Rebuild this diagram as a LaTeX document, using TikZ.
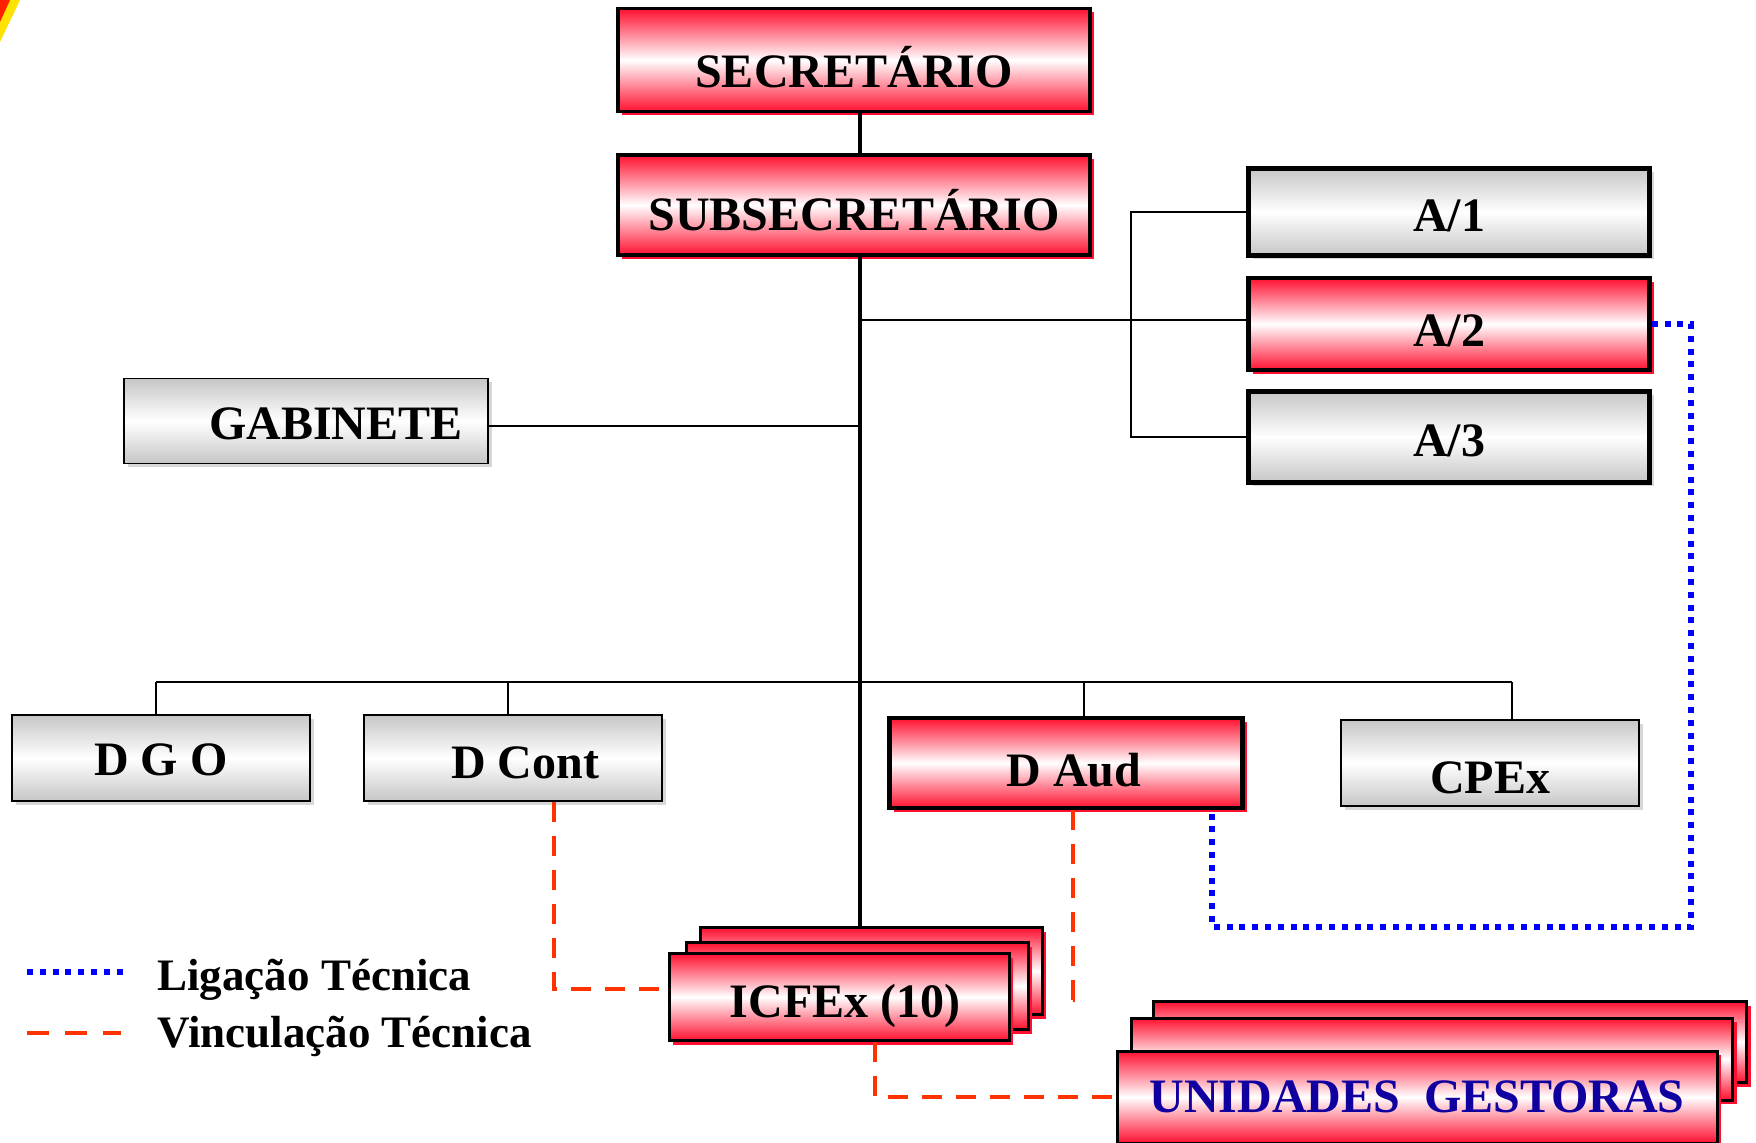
\documentclass[tikz,border=0pt]{standalone}
\usepackage{fontspec}
\setmainfont{Liberation Serif}
\usetikzlibrary{calc,shadows}
\definecolor{boxred}{RGB}{255,16,48}
\definecolor{boxgrey}{RGB}{198,198,198}
\definecolor{ugblue}{RGB}{16,0,160}
\definecolor{vincred}{RGB}{255,51,0}
\definecolor{ligblue}{RGB}{0,0,255}

\begin{document}
\begin{tikzpicture}[x=0.5pt,y=-0.5pt,
  bx/.style 2 args={minimum width=#1*0.5pt,minimum height=#2*0.5pt,inner sep=0pt,font=\fontsize{24}{28}\selectfont\bfseries},
  dn/.style={text height=#1,text depth=0pt},
  redbox/.style={draw,line width=1.8pt,top color=boxred,bottom color=boxred,middle color=white,general shadow={shadow xshift=2pt,shadow yshift=-2pt,fill=boxred}},
  greybox/.style={draw,line width=0.8pt,top color=boxgrey,bottom color=boxgrey,middle color=white,general shadow={shadow xshift=2pt,shadow yshift=-2pt,fill=boxgrey!70}},
  trunk/.style={line width=2.2pt},
  link/.style={line width=0.9pt},
  vinc/.style={vincred,line width=2.4pt,dash pattern=on 10pt off 7pt},
  lig/.style={ligblue,line width=2.8pt,dash pattern=on 3pt off 3.4pt},
  legtext/.style={anchor=base west,inner sep=0pt,font=\fontsize{22.5}{26}\selectfont\bfseries}]
\useasboundingbox (0,0) rectangle (1756,1143);
\fill[yellow!85!orange] (0,0) -- (20,0) -- (0,42) -- cycle; % corner
\fill[red!75!orange] (0,0) -- (10,0) -- (0,22) -- cycle; % corner

% top of the chart
\node[redbox,bx={472}{103},dn=27.9pt] (sec) at (854,60) {SECRETÁRIO};
\node[redbox,bx={472}{100},dn=25.9pt] (sub) at (854,205) {SUBSECRETÁRIO};
\node[greybox,line width=2.2pt,bx={401}{87},dn=19.9pt] (a1) at (1449,212) {A/1};
\node[redbox,line width=2.2pt,bx={401}{92},dn=22.9pt] (a2) at (1449,324) {A/2};
\node[greybox,line width=2.2pt,bx={401}{91},dn=19.9pt] (a3) at (1449,437) {A/3};
\node[greybox,bx={364}{85},dn=18.9pt] (gab) at (306,421) {\hspace*{30pt}GABINETE};

% directorates
\node[greybox,bx={298}{86},dn=17.9pt] (dgo) at (161,758) {D G O};
\node[greybox,bx={298}{86},dn=20.9pt] (dcont) at (513,758) {\hspace*{12pt}D Cont};
\node[redbox,line width=2.2pt,bx={353}{90},dn=23.9pt] (daud) at (1066,763) {\hspace*{8pt}D Aud};
\node[greybox,bx={298}{86},dn=30.9pt] (cpex) at (1490,763) {CPEx};

% ICFEx stack
\node[redbox,line width=1.5pt,bx={342}{87}] (icb) at (871,971) {};
\node[redbox,line width=1.5pt,bx={342}{87}] (icm) at (857,986) {};
\node[redbox,line width=1.5pt,bx={340}{87},dn=20.9pt] (icf) at (839,997) {\hspace*{6pt}ICFEx (10)};

% UG stack
\node[redbox,line width=1.5pt,bx={593}{81}] (ugb) at (1450,1042) {};
\node[redbox,line width=1.5pt,bx={601}{82}] (ugm) at (1432,1059) {};
\node[redbox,line width=1.5pt,bx={600}{92},dn=15.9pt,text=ugblue] (ugf) at (1417,1097) {UNIDADES\ \ GESTORAS};

% wiring
\coordinate (tk) at (860,0);
\coordinate (ab) at (1131,0);
\coordinate (bus) at (0,682);
\draw[trunk] (sec.south -| tk) -- (sub.north -| tk); % trunk
\draw[trunk] (sub.south -| tk) -- (icb.north -| tk); % trunk
\draw[link] (a1.west) -- (a1.west -| ab) -- (a3.west -| ab) -- (a3.west); % A bracket
\draw[link] ($(a2.west)+(0,-4)$) -- ($(a2.west -| tk)+(0,-4)$); % A/2
\draw[link] ($(gab.east)+(0,5)$) -- ($(gab.east -| tk)+(0,5)$); % gabinete
\draw[link] ($(dgo.north |- bus)+(-5,0)$) -- ($(cpex.north |- bus)+(22,0)$); % bus
\foreach \b/\dx in {dgo/-5,dcont/-5,daud/18,cpex/22}
  \draw[link] ($(\b.north)+(\dx,0)$) -- ($(\b.north |- bus)+(\dx,0)$); % drops

% technical links
\coordinate (lg) at (1691,927);
\draw[lig] (a2.east) -| (lg) -| ($(daud.south)+(146,0)$); % ligacao
\draw[vinc] ($(dcont.south)+(41,0)$) |- ($(icf.west)+(-7,-8)$); % D Cont
\draw[vinc] ($(daud.south)+(7,0)$) |- ($(icb.east)+(22,29)$); % D Aud
\draw[vinc] ($(icf.south)+(36,0)$) |- (ugf.west); % UG

% legend
\coordinate (l1a) at (27,972);
\coordinate (l1b) at (125,972);
\coordinate (l2a) at (27,1033);
\coordinate (l2b) at (121,1033);
\draw[lig] (l1a) -- (l1b);
\draw[vinc,dash pattern=on 11pt off 8pt] (l2a) -- (l2b);
\node[legtext] (lt1) at (157,990) {Ligação Técnica};
\node[legtext] (lt2) at (157,1047) {Vinculação Técnica};
\end{tikzpicture}
\end{document}
